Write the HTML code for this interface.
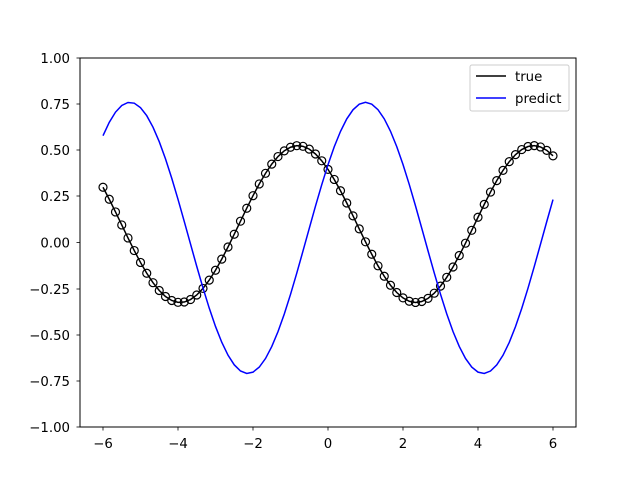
<!DOCTYPE html>
<html><head><meta charset="utf-8"><style>
html,body{margin:0;padding:0;background:#fff;}
svg{display:block;font-family:"DejaVu Sans","Liberation Sans",sans-serif;}
</style></head><body>
<svg id="s" width="640" height="480" viewBox="0 0 640 480" xmlns="http://www.w3.org/2000/svg">
<rect width="640" height="480" fill="#fff"/>
<g id="plot"></g>
<rect x="80" y="58" width="496" height="369" fill="none" stroke="#000" stroke-width="1"/>
<g font-size="13.3" fill="#000" text-anchor="middle">
<text x="103" y="448">−6</text>
<text x="178" y="448">−4</text>
<text x="253" y="448">−2</text>
<text x="328" y="448">0</text>
<text x="403" y="448">2</text>
<text x="478" y="448">4</text>
<text x="553" y="448">6</text>
</g>
<g font-size="13.3" fill="#000" text-anchor="end">
<text x="70" y="432">−1.00</text>
<text x="70" y="386">−0.75</text>
<text x="70" y="340">−0.50</text>
<text x="70" y="294">−0.25</text>
<text x="70" y="247.5">0.00</text>
<text x="70" y="201">0.25</text>
<text x="70" y="155">0.50</text>
<text x="70" y="109">0.75</text>
<text x="70" y="63">1.00</text>
</g>
<g stroke="#000" stroke-width="0.8">
<line x1="103" y1="427" x2="103" y2="430.5"/><line x1="178" y1="427" x2="178" y2="430.5"/>
<line x1="253" y1="427" x2="253" y2="430.5"/><line x1="328" y1="427" x2="328" y2="430.5"/>
<line x1="403" y1="427" x2="403" y2="430.5"/><line x1="478" y1="427" x2="478" y2="430.5"/>
<line x1="553" y1="427" x2="553" y2="430.5"/>
<line x1="76.5" y1="427" x2="80" y2="427"/><line x1="76.5" y1="381" x2="80" y2="381"/>
<line x1="76.5" y1="335" x2="80" y2="335"/><line x1="76.5" y1="289" x2="80" y2="289"/>
<line x1="76.5" y1="242.5" x2="80" y2="242.5"/><line x1="76.5" y1="196" x2="80" y2="196"/>
<line x1="76.5" y1="150" x2="80" y2="150"/><line x1="76.5" y1="104" x2="80" y2="104"/>
<line x1="76.5" y1="58" x2="80" y2="58"/>
</g>
<rect x="470" y="65" width="99" height="46" rx="2" fill="#fff" fill-opacity="0.8" stroke="#ccc"/>
<line x1="476" y1="76" x2="506" y2="76" stroke="#000" stroke-width="1.5"/>
<line x1="476" y1="98" x2="506" y2="98" stroke="#0000ff" stroke-width="1.5"/>
<text x="515" y="81" font-size="13.3">true</text>
<text x="515" y="103" font-size="13.3">predict</text>
</svg>
<script>
(function(){
var g=document.getElementById('plot'),ns='http://www.w3.org/2000/svg';
function X(x){return 328+37.5*x;}function Y(y){return 242.5-184.5*y;}
function t(x){return 0.1+0.425*Math.sin(x+2.37);}
function p(x){return 0.025+0.735*Math.sin(x+0.57);}
var N=73,dt='',dp='',i;
for(i=0;i<N;i++){var x=-6+12*i/(N-1);dt+=(i?'L':'M')+X(x).toFixed(2)+' '+Y(t(x)).toFixed(2);}
for(i=0;i<N;i++){var x=-6+12*i/(N-1);dp+=(i?'L':'M')+X(x).toFixed(2)+' '+Y(p(x)).toFixed(2);}
var a=document.createElementNS(ns,'path');a.setAttribute('d',dt);a.setAttribute('fill','none');a.setAttribute('stroke','#000');a.setAttribute('stroke-width','1.5');g.appendChild(a);
for(i=0;i<N;i++){var x=-6+12*i/(N-1);var c=document.createElementNS(ns,'circle');c.setAttribute('cx',X(x));c.setAttribute('cy',Y(t(x)));c.setAttribute('r','4');c.setAttribute('fill','none');c.setAttribute('stroke','#000');c.setAttribute('stroke-width','1.2');g.appendChild(c);}
var b=document.createElementNS(ns,'path');b.setAttribute('d',dp);b.setAttribute('fill','none');b.setAttribute('stroke','#0000ff');b.setAttribute('stroke-width','1.5');g.appendChild(b);
})();
</script>
</body></html>
